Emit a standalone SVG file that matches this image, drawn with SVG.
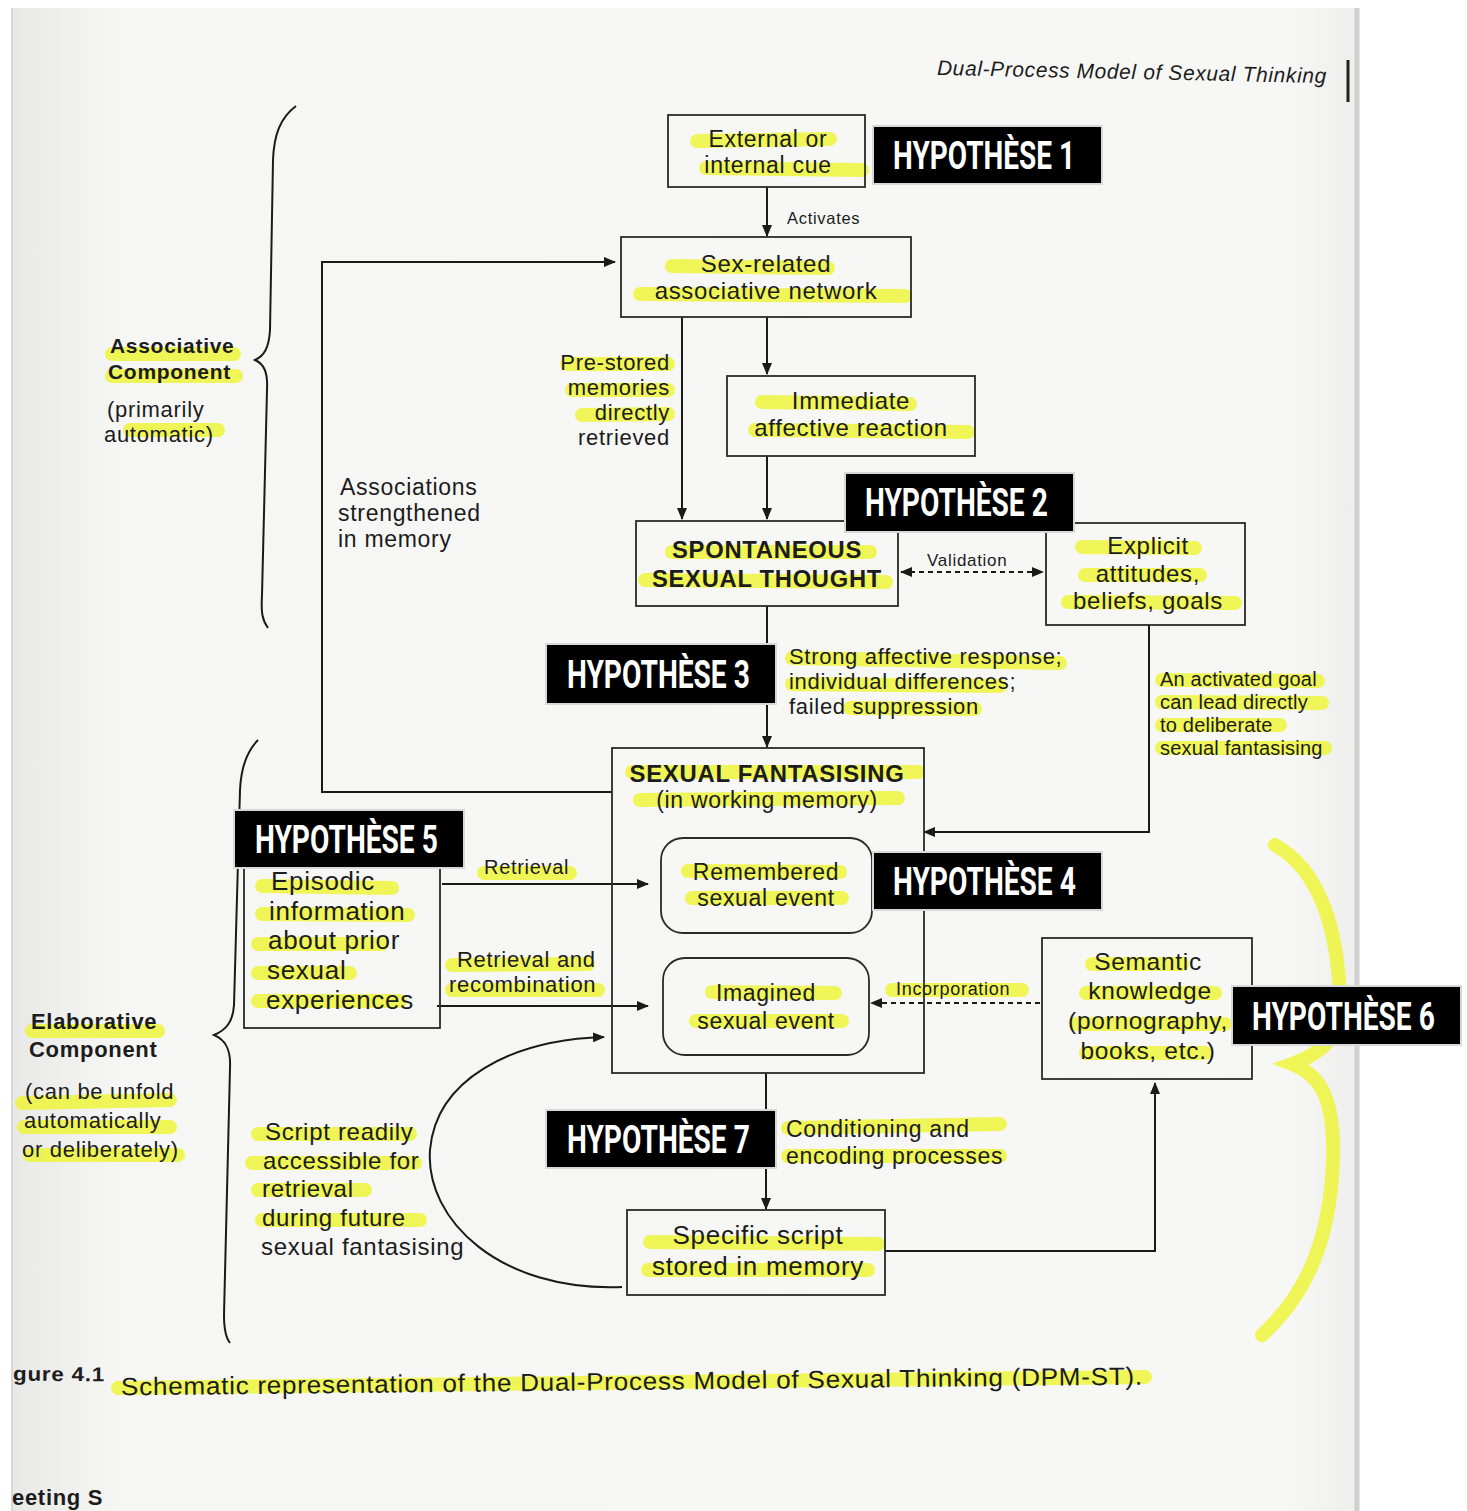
<svg xmlns="http://www.w3.org/2000/svg" width="1467" height="1511" viewBox="0 0 1467 1511">
<defs>
<marker id="ah" viewBox="0 0 12 10" refX="11" refY="5" markerWidth="12" markerHeight="10" markerUnits="userSpaceOnUse" orient="auto-start-reverse">
<path d="M0,0 L12,5 L0,10 Z" fill="#1a1a1a"/>
</marker>
<linearGradient id="pageg" x1="0" y1="0" x2="1" y2="0">
<stop offset="0" stop-color="#e8e8e6"/>
<stop offset="0.08" stop-color="#f6f6f4"/>
<stop offset="0.95" stop-color="#f7f7f5"/>
<stop offset="1" stop-color="#eeeeec"/>
</linearGradient>
</defs>
<style>
.box{fill:none;stroke:#2a2a2a;stroke-width:1.8}
.ln{fill:none;stroke:#1a1a1a;stroke-width:2}
.dash{fill:none;stroke:#1a1a1a;stroke-width:1.8;stroke-dasharray:5 4}
.t{font-family:"Liberation Sans",Arial,sans-serif;fill:#1c1c1c;letter-spacing:0.7px}
.b{font-weight:700}
.hyp rect{fill:#000;stroke:#d8d8d8;stroke-width:2}
.hyp text{font-family:Roboto,"Liberation Sans",sans-serif;font-weight:700;font-size:38px;fill:#fff}
.hl{fill:none;stroke:#eef530;stroke-width:14;stroke-linecap:round;opacity:.8}
</style>
<rect x="0" y="0" width="1467" height="1511" fill="#ffffff"/>
<rect x="12" y="8" width="1343" height="1503" fill="url(#pageg)"/>
<line x1="1357" y1="8" x2="1357" y2="1511" stroke="#d0d0d0" stroke-width="5"/>
<line x1="12" y1="8" x2="12" y2="1511" stroke="#d8d8d8" stroke-width="2"/>

<g id="highlights">
<path class="hl" d="M697,141 L830,139 M706,168 L862,170"/>
<path class="hl" d="M672,266 L828,268 M640,294 L905,296"/>
<path class="hl" d="M567,364 L668,364 M572,390 L668,390 M582,415 L668,414"/>
<path class="hl" d="M762,402 L910,404 M755,430 L968,432"/>
<path class="hl" d="M672,552 L870,552 M645,580 L886,582"/>
<path class="hl" d="M1082,547 L1195,548 M1085,575 L1200,575 M1068,602 L1235,603"/>
<path class="hl" d="M792,658 L1060,663 M792,684 L1000,686 M850,708 L975,709"/>
<path class="hl" d="M1162,680 L1318,681 M1162,702 L1322,703 M1162,725 L1280,725 M1162,748 L1325,748"/>
<path class="hl" d="M632,772 L918,772 M640,800 L898,798"/>
<path class="hl" d="M688,871 L840,872 M692,898 L842,898"/>
<path class="hl" d="M712,992 L835,993 M696,1021 L842,1021"/>
<path class="hl" d="M262,886 L392,888 M262,914 L408,915 M258,944 L382,944 M258,973 L350,973 M258,1001 L400,1001"/>
<path class="hl" d="M484,873 L570,873 M452,965 L588,964 M452,990 L598,990"/>
<path class="hl" d="M892,990 L1022,990"/>
<path class="hl" d="M1092,964 L1182,964 M1086,993 L1215,993 M1076,1024 L1225,1024 M1086,1053 L1205,1053"/>
<path class="hl" d="M788,1128 L1000,1124 M788,1156 L1000,1156"/>
<path class="hl" d="M650,1242 L878,1244 M648,1270 L868,1270"/>
<path class="hl" d="M258,1134 L410,1134 M252,1163 L415,1163 M258,1190 L365,1190 M262,1220 L420,1220"/>
<path class="hl" d="M112,354 L234,354 M112,376 L236,376 M130,430 L218,430"/>
<path class="hl" d="M32,1031 L158,1031 M22,1103 L170,1100 M24,1127 L170,1127 M30,1155 L178,1155"/>
<path class="hl" d="M118,1388 L1145,1377" stroke-width="32"/>
<path class="hl" d="M1275,845 C1320,870 1338,930 1340,1000 C1341,1035 1325,1052 1292,1064 C1318,1074 1335,1095 1333,1160 C1330,1250 1300,1300 1262,1335" stroke-width="11"/>
</g>

<g id="header">
<text class="t" x="937" y="79" font-size="21" font-style="italic" textLength="390" lengthAdjust="spacingAndGlyphs" transform="rotate(1.2 1130 72)">Dual-Process Model of Sexual Thinking</text>
<line x1="1348" y1="60" x2="1348" y2="102" stroke="#222" stroke-width="3"/>
</g>

<g id="connectors">
<line class="ln" x1="767" y1="187" x2="767" y2="236" marker-end="url(#ah)"/>
<text class="t" x="787" y="224" font-size="16.5">Activates</text>
<polyline class="ln" points="612,792 322,792 322,262 615,262" marker-end="url(#ah)"/>
<line class="ln" x1="682" y1="317" x2="682" y2="519" marker-end="url(#ah)"/>
<line class="ln" x1="767" y1="317" x2="767" y2="374" marker-end="url(#ah)"/>
<line class="ln" x1="767" y1="456" x2="767" y2="519" marker-end="url(#ah)"/>
<line class="dash" x1="901" y1="572" x2="1043" y2="572" marker-start="url(#ah)" marker-end="url(#ah)"/>
<line class="ln" x1="767" y1="606" x2="767" y2="747" marker-end="url(#ah)"/>
<polyline class="ln" points="1149,625 1149,832 924,832" marker-end="url(#ah)"/>
<line class="ln" x1="442" y1="884" x2="648" y2="884" marker-end="url(#ah)"/>
<line class="ln" x1="437" y1="1006" x2="648" y2="1006" marker-end="url(#ah)"/>
<line class="dash" x1="1040" y1="1003" x2="871" y2="1003" marker-end="url(#ah)"/>
<line class="ln" x1="766" y1="1073" x2="766" y2="1209" marker-end="url(#ah)"/>
<polyline class="ln" points="885,1251 1155,1251 1155,1083" marker-end="url(#ah)"/>
<path class="ln" d="M622,1287 C500,1292 425,1220 430,1150 C436,1080 510,1040 604,1037" marker-end="url(#ah)"/>
</g>

<g id="labels">
<text class="t" font-size="22" text-anchor="end"><tspan x="670" y="370">Pre-stored</tspan><tspan x="670" y="395">memories</tspan><tspan x="670" y="420">directly</tspan><tspan x="670" y="445">retrieved</tspan></text>
<text class="t" font-size="23"><tspan x="340" y="495">Associations</tspan><tspan x="338" y="521">strengthened</tspan><tspan x="338" y="547">in memory</tspan></text>
<text class="t" font-size="17" x="927" y="566">Validation</text>
<text class="t" font-size="22"><tspan x="789" y="664">Strong affective response;</tspan><tspan x="789" y="689">individual differences;</tspan><tspan x="789" y="714">failed suppression</tspan></text>
<text class="t" font-size="20" style="letter-spacing:0.2px"><tspan x="1160" y="686">An activated goal</tspan><tspan x="1160" y="709">can lead directly</tspan><tspan x="1160" y="732">to deliberate</tspan><tspan x="1160" y="755">sexual fantasising</tspan></text>
<text class="t" font-size="20" x="484" y="874">Retrieval</text>
<text class="t" font-size="22"><tspan x="457" y="967">Retrieval and</tspan><tspan x="449" y="992">recombination</tspan></text>
<text class="t" font-size="18" x="896" y="995">Incorporation</text>
<text class="t" font-size="23"><tspan x="786" y="1137">Conditioning and</tspan><tspan x="786" y="1164">encoding processes</tspan></text>
<text class="t" font-size="24"><tspan x="265" y="1140">Script readily</tspan><tspan x="263" y="1169">accessible for</tspan><tspan x="262" y="1197">retrieval</tspan><tspan x="262" y="1226">during future</tspan><tspan x="261" y="1255">sexual fantasising</tspan></text>
</g>

<g id="braces">
<path class="ln" stroke-width="1.6" d="M296,106 C280,118 274,135 273,160 L270,330 C269,348 264,356 255,360 C264,364 268,372 267,390 L262,595 C261,612 262,620 268,628"/>
<path class="ln" stroke-width="1.6" d="M258,740 C246,752 241,768 240,790 L234,1005 C233,1022 226,1030 214,1035 C226,1040 231,1050 230,1068 L224,1315 C224,1330 226,1338 230,1343"/>
<text class="t b" font-size="21"><tspan x="110" y="353">Associative</tspan><tspan x="108" y="379">Component</tspan></text>
<text class="t" font-size="22"><tspan x="107" y="417">(primarily</tspan><tspan x="104" y="442">automatic)</tspan></text>
<text class="t b" font-size="22"><tspan x="31" y="1029">Elaborative</tspan><tspan x="29" y="1057">Component</tspan></text>
<text class="t" font-size="22"><tspan x="25" y="1099">(can be unfold</tspan><tspan x="24" y="1128">automatically</tspan><tspan x="22" y="1157">or deliberately)</tspan></text>
</g>

<g id="n-cue">
<rect class="box" x="668" y="115" width="197" height="72"/>
<text class="t" font-size="23" text-anchor="middle"><tspan x="768" y="147">External or</tspan><tspan x="768" y="173">internal cue</tspan></text>
</g>
<g id="n-network">
<rect class="box" x="621" y="237" width="290" height="80"/>
<text class="t" font-size="24" text-anchor="middle"><tspan x="766" y="272">Sex-related</tspan><tspan x="766" y="299">associative network</tspan></text>
</g>
<g id="n-immediate">
<rect class="box" x="727" y="376" width="248" height="80"/>
<text class="t" font-size="24" text-anchor="middle"><tspan x="851" y="409">Immediate</tspan><tspan x="851" y="436">affective reaction</tspan></text>
</g>
<g id="n-spontaneous">
<rect class="box" x="636" y="521" width="262" height="85"/>
<text class="t b" font-size="23" text-anchor="middle"><tspan x="767" y="558" textLength="190" lengthAdjust="spacingAndGlyphs">SPONTANEOUS</tspan><tspan x="767" y="587" textLength="230" lengthAdjust="spacingAndGlyphs">SEXUAL THOUGHT</tspan></text>
</g>
<g id="n-explicit">
<rect class="box" x="1046" y="523" width="199" height="102"/>
<text class="t" font-size="24" text-anchor="middle"><tspan x="1148" y="554">Explicit</tspan><tspan x="1148" y="582">attitudes,</tspan><tspan x="1148" y="609">beliefs, goals</tspan></text>
</g>
<g id="n-fantasising">
<rect class="box" x="612" y="748" width="312" height="325"/>
<text class="t b" font-size="23" text-anchor="middle" x="767" y="782" textLength="275" lengthAdjust="spacingAndGlyphs">SEXUAL FANTASISING</text>
<text class="t" font-size="23" text-anchor="middle" x="767" y="808">(in working memory)</text>
</g>
<g id="n-remembered">
<rect class="box" x="661" y="838" width="211" height="95" rx="22"/>
<text class="t" font-size="23" text-anchor="middle"><tspan x="766" y="880">Remembered</tspan><tspan x="766" y="906">sexual event</tspan></text>
</g>
<g id="n-imagined">
<rect class="box" x="663" y="958" width="206" height="97" rx="22"/>
<text class="t" font-size="23" text-anchor="middle"><tspan x="766" y="1001">Imagined</tspan><tspan x="766" y="1029">sexual event</tspan></text>
</g>
<g id="n-episodic">
<rect class="box" x="244" y="865" width="196" height="163"/>
<text class="t" font-size="26"><tspan x="271" y="890">Episodic</tspan><tspan x="269" y="920">information</tspan><tspan x="268" y="949">about prior</tspan><tspan x="267" y="979">sexual</tspan><tspan x="266" y="1009">experiences</tspan></text>
</g>
<g id="n-semantic">
<rect class="box" x="1042" y="938" width="210" height="141"/>
<text class="t" font-size="24.5" text-anchor="middle"><tspan x="1148" y="970">Semantic</tspan><tspan x="1150" y="999">knowledge</tspan><tspan x="1148" y="1029">(pornography,</tspan><tspan x="1148" y="1059">books, etc.)</tspan></text>
</g>
<g id="n-script">
<rect class="box" x="627" y="1210" width="258" height="85"/>
<text class="t" font-size="26" text-anchor="middle"><tspan x="758" y="1244">Specific script</tspan><tspan x="758" y="1275">stored in memory</tspan></text>
</g>

<g id="h1" class="hyp"><rect x="873" y="126" width="229" height="58"/><g transform="translate(893,169) scale(0.74,1)"><text x="0" y="0" textLength="246" lengthAdjust="spacingAndGlyphs">HYPOTHÈSE 1</text></g></g>
<g id="h2" class="hyp"><rect x="845" y="473" width="229" height="59"/><g transform="translate(865,516) scale(0.74,1)"><text x="0" y="0" textLength="247" lengthAdjust="spacingAndGlyphs">HYPOTHÈSE 2</text></g></g>
<g id="h3" class="hyp"><rect x="546" y="644" width="230" height="60"/><g transform="translate(567,688) scale(0.74,1)"><text x="0" y="0" textLength="247" lengthAdjust="spacingAndGlyphs">HYPOTHÈSE 3</text></g></g>
<g id="h4" class="hyp"><rect x="873" y="852" width="229" height="58"/><g transform="translate(893,895) scale(0.74,1)"><text x="0" y="0" textLength="247" lengthAdjust="spacingAndGlyphs">HYPOTHÈSE 4</text></g></g>
<g id="h5" class="hyp"><rect x="234" y="810" width="230" height="58"/><g transform="translate(255,853) scale(0.74,1)"><text x="0" y="0" textLength="247" lengthAdjust="spacingAndGlyphs">HYPOTHÈSE 5</text></g></g>
<g id="h6" class="hyp"><rect x="1232" y="986" width="229" height="59"/><g transform="translate(1252,1030) scale(0.74,1)"><text x="0" y="0" textLength="247" lengthAdjust="spacingAndGlyphs">HYPOTHÈSE 6</text></g></g>
<g id="h7" class="hyp"><rect x="546" y="1110" width="230" height="58"/><g transform="translate(567,1153) scale(0.74,1)"><text x="0" y="0" textLength="247" lengthAdjust="spacingAndGlyphs">HYPOTHÈSE 7</text></g></g>

<g id="caption">
<text class="t b" font-size="20" x="13" y="1381" textLength="92" lengthAdjust="spacingAndGlyphs" transform="rotate(0.5 60 1375)">gure 4.1</text>
<text class="t" font-size="25" x="121" y="1390" textLength="1022" lengthAdjust="spacingAndGlyphs" transform="rotate(-0.6 630 1390)">Schematic representation of the Dual-Process Model of Sexual Thinking (DPM-ST).</text>
<text class="t b" font-size="22" x="12" y="1505">eeting S</text>
</g>
</svg>
